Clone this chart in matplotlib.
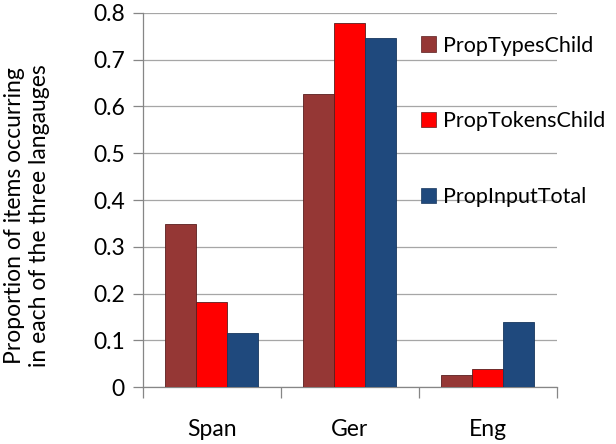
import matplotlib
matplotlib.use("Agg")
import matplotlib.pyplot as plt
import numpy as np
from matplotlib.patches import Patch

categories = ["Span", "Ger", "Eng"]
series_names = ["PropTypesChild", "PropTokensChild", "PropInputTotal"]
prop_types_child = [0.348, 0.626, 0.025]
prop_tokens_child = [0.182, 0.779, 0.038]
prop_input_total = [0.115, 0.746, 0.139]
yticks = [0, 0.1, 0.2, 0.3, 0.4, 0.5, 0.6, 0.7, 0.8]
ytick_labels = ["0", "0.1", "0.2", "0.3", "0.4", "0.5", "0.6", "0.7", "0.8"]

colors = ["#953735", "#FF0000", "#1F497D"]
plt.rcParams['font.family'] = ['Lato', 'DejaVu Sans']
FS = 16.5

fig = plt.figure(figsize=(6.16, 4.44), dpi=100)
ax = fig.add_axes([0.232, 0.128, 0.672, 0.843])

x = np.arange(len(categories))
w = 0.225
for i, (vals, c) in enumerate(zip([prop_types_child, prop_tokens_child, prop_input_total], colors)):
    ax.bar(x + (i - 1) * w, vals, width=w, color=c, edgecolor="#5a1e1e" if i < 2 else "#17375e",
           linewidth=0.6, zorder=3, label=series_names[i])

ax.set_xlim(-0.5, 2.5)
ax.set_ylim(0, 0.8)
ax.set_yticks(yticks)
ax.set_yticklabels(ytick_labels, fontsize=FS)
ax.yaxis.grid(True, color="#a6a6a6", linewidth=0.9, zorder=0)
ax.set_axisbelow(True)

ax.set_xticks([-0.5, 0.5, 1.5, 2.5])
ax.set_xticklabels([])
ax.set_xticks(x, minor=True)
ax.set_xticklabels(categories, minor=True, fontsize=FS)
ax.tick_params(axis="x", which="major", length=8, color="#868686", width=0.9)
ax.tick_params(axis="x", which="minor", length=0, pad=23)
ax.tick_params(axis="y", length=7, color="#868686", width=0.9, pad=6)

for s in ["top", "right"]:
    ax.spines[s].set_visible(False)
for s in ["left", "bottom"]:
    ax.spines[s].set_color("#868686")
    ax.spines[s].set_linewidth(0.9)

fig.text(27 / 616, 1 - 216 / 444, "Proportion of items occurring\nin each of the three langauges",
         fontsize=FS, rotation=90, ha="center", va="center", linespacing=1.2)

handles = [Patch(facecolor=c, edgecolor="#5a1e1e" if i < 2 else "#17375e", linewidth=0.5)
           for i, c in enumerate(colors)]
fig.legend(handles, series_names, loc="upper left", bbox_to_anchor=(0.683, 0.92),
           frameon=False, fontsize=15.5, labelspacing=2.6, handlelength=0.7, handleheight=0.7,
           handletextpad=0.35, borderpad=0, borderaxespad=0)

fig.savefig("out.png", dpi=100)
